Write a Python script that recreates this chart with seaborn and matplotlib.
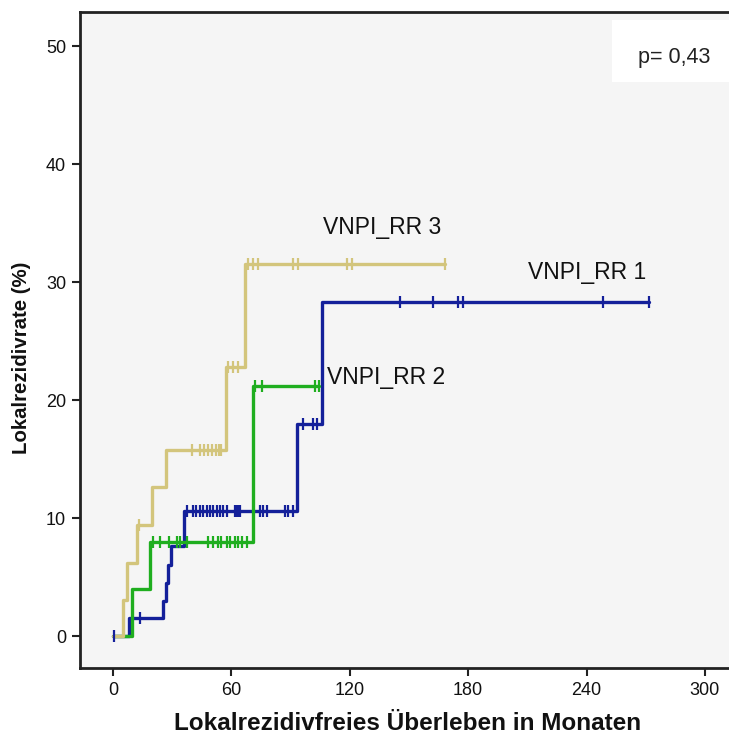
import matplotlib
matplotlib.use("Agg")
import matplotlib.pyplot as plt
import seaborn as sns
import numpy as np
import pandas as pd
from matplotlib.patches import Rectangle

# Kaplan-Meier cumulative local recurrence
# event times in months and cumulative rate (%) after each event
rr1_times = [0, 8.3, 25.3, 26.7, 28.0, 29.2, 36.0, 93.1, 106.0]
rr1_rates = [0, 1.5, 3.0, 4.5, 6.0, 7.6, 10.6, 18.0, 28.3]
rr1_censor = [0.3, 13.7, 37.3, 40.6, 42.3, 44.0, 45.8, 47.5, 49.2, 50.8, 52.5, 54.2,
              55.9, 57.6, 61.8, 62.7, 63.5, 64.4, 74.5, 76.2, 78.2, 87.2, 88.9, 91.0,
              96.5, 101.5, 103.2, 145.5, 162.3, 175.0, 177.2, 248.5, 271.8]

rr2_times = [0, 9.5, 18.8, 71.1]
rr2_rates = [0, 4.0, 8.0, 21.2]
rr2_censor = [20.4, 24.0, 28.5, 32.5, 34.0, 37.3, 48.3, 50.8, 53.3, 55.0, 57.6, 59.5,
              61.8, 63.5, 65.5, 67.7, 72.0, 75.4, 102.4, 104.3]

rr3_times = [0, 4.9, 6.9, 12.0, 19.6, 26.9, 57.5, 67.0]
rr3_rates = [0, 3.1, 6.2, 9.4, 12.6, 15.8, 22.8, 31.5]
rr3_censor = [13.3, 40.0, 44.0, 46.0, 48.0, 50.0, 52.0, 53.5, 55.0, 58.5, 61.0, 63.5,
              68.6, 70.8, 73.6, 91.4, 93.9, 118.4, 121.0, 168.3]

groups = ["VNPI_RR 1", "VNPI_RR 2", "VNPI_RR 3"]
colors = {"VNPI_RR 1": "#14209a", "VNPI_RR 2": "#1fae1f", "VNPI_RR 3": "#d3c57c"}
label_pos = {"VNPI_RR 1": (210.5, 30.8), "VNPI_RR 2": (108.5, 21.9), "VNPI_RR 3": (106.5, 34.6)}

curves = {
    "VNPI_RR 1": (rr1_times, rr1_rates, rr1_censor),
    "VNPI_RR 2": (rr2_times, rr2_rates, rr2_censor),
    "VNPI_RR 3": (rr3_times, rr3_rates, rr3_censor),
}

step_rows = []
cens_rows = []
for g in groups:
    t, r, c = curves[g]
    t = list(t) + [max(c)]
    r = list(r) + [r[-1]]
    for ti, ri in zip(t, r):
        step_rows.append((g, ti, ri))
    idx = np.searchsorted(np.array(curves[g][0]), np.array(c), side="right") - 1
    for ci, ii in zip(c, idx):
        cens_rows.append((g, ci, curves[g][1][ii]))

steps = pd.DataFrame(step_rows, columns=["group", "month", "rate"])
cens = pd.DataFrame(cens_rows, columns=["group", "month", "rate"])

sns.set_style("white")
plt.rcParams["font.family"] = ["Liberation Sans", "DejaVu Sans"]

fig = plt.figure(figsize=(7.29, 7.39), dpi=100)
ax = fig.add_axes([80 / 729, 71 / 739, 649 / 729, 656 / 739])
ax.set_facecolor("#f5f5f5")

for g in groups:
    sub = steps[steps.group == g]
    sns.lineplot(data=sub, x="month", y="rate", ax=ax, color=colors[g], lw=2.4,
                 drawstyle="steps-post", estimator=None, sort=False, legend=False)
    csub = cens[cens.group == g]
    sns.scatterplot(data=csub, x="month", y="rate", ax=ax, color=colors[g], marker="|",
                    s=75, linewidth=1.6, legend=False, zorder=3)
    ax.text(label_pos[g][0], label_pos[g][1], g, fontsize=16.5, color="#111111",
            va="center", ha="left")

ax.set_xlim(-16.7, 312.2)
ax.set_ylim(-2.7, 52.9)
ax.set_xticks([0, 60, 120, 180, 240, 300])
ax.set_yticks([0, 10, 20, 30, 40, 50])
ax.tick_params(direction="out", length=6, width=1.5, colors="#222222", labelsize=13,
               labelcolor="#111111", pad=4)
ax.tick_params(axis="both", which="both", bottom=True, left=True)
for side in ["left", "top", "bottom"]:
    ax.spines[side].set_linewidth(2)
    ax.spines[side].set_color("#222222")
ax.spines["right"].set_visible(False)
ax.set_xlabel("")
ax.set_ylabel("")

fig.text(408 / 729, 1 - 724 / 739, "Lokalrezidivfreies Überleben in Monaten",
         fontsize=17.5, fontweight="bold", ha="center", va="center", color="#111111")
fig.text(22 / 729, 1 - 358 / 739, "Lokalrezidivrate (%)", fontsize=14.7,
         fontweight="bold", rotation=90, ha="center", va="center", color="#111111")

# p-value box in the upper right corner
ax.add_patch(Rectangle((0.82, 0.893), 0.18, 0.095, transform=ax.transAxes,
                       fc="white", ec="none", zorder=4))
ax.text(0.915, 0.931, "p= 0,43", transform=ax.transAxes, fontsize=15.5, ha="center",
        va="center", color="#222222", zorder=5)

fig.savefig("out.png", dpi=100)
